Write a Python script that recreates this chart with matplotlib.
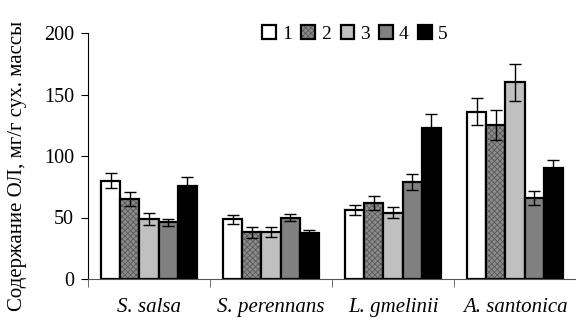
import matplotlib
matplotlib.use("Agg")
import matplotlib.pyplot as plt
import numpy as np

plt.rcParams['font.family'] = ['Liberation Serif', 'DejaVu Serif']
plt.rcParams['hatch.linewidth'] = 0.6

categories = ["S. salsa", "S. perennans", "L. gmelinii", "A. santonica"]
series_names = ["1", "2", "3", "4", "5"]
values = [
    [80, 48.5, 56, 136],
    [65, 38, 62, 125],
    [49, 38, 54, 160],
    [46, 50, 79, 66],
    [76, 37, 123, 90],
]
errors = [
    [6, 3.5, 4, 11],
    [6, 4.5, 5.5, 12],
    [5, 4, 4.5, 15],
    [3, 3, 6.5, 5.5],
    [7, 2.5, 11, 7],
]
colors = ["white", "#8c8c8c", "#c0c0c0", "#808080", "black"]
hatches = [None, "xxxxxx", None, None, None]

fig = plt.figure(figsize=(5.76, 3.23), dpi=100)
ax = fig.add_axes([88/576, 1-279/323, 1-88/576, (279-33)/323])

x = np.arange(len(categories))
w = 0.156
for i in range(5):
    pos = x + (i - 2) * w
    bars = ax.bar(pos, values[i], w, color=colors[i], edgecolor="black",
                  linewidth=1.6, hatch=hatches[i], label=series_names[i], zorder=2)
    if hatches[i]:
        for b in bars:
            b._hatch_color = (0.35, 0.35, 0.35, 1.0)
    ax.errorbar(pos, values[i], yerr=errors[i], fmt="none", ecolor="black",
                elinewidth=1.0, capsize=4, capthick=1.0, zorder=3)

ax.set_xlim(-0.5, 3.5)
ax.set_ylim(0, 200)
ax.set_yticks([0, 50, 100, 150, 200])
ax.set_xticks(x)
ax.set_xticklabels(categories, fontstyle="italic", fontsize=15)
ax.set_xticks([-0.5, 0.5, 1.5, 2.5], minor=True)
ax.tick_params(axis="x", which="major", length=0, pad=14)
ax.tick_params(axis="x", which="minor", length=6, direction="out", color="#555555")
ax.tick_params(axis="y", labelsize=14.5, length=5, direction="out", pad=5)
for s in ["top", "right"]:
    ax.spines[s].set_visible(False)
ax.spines["left"].set_linewidth(0.8)
ax.spines["bottom"].set_linewidth(0.8)
ax.spines["bottom"].set_color("#555555")

ax.set_ylabel("Содержание ОЛ, мг/г сух. массы", fontsize=15)
ax.yaxis.set_label_coords(-0.125, 0.46)

leg = ax.legend(loc="center", bbox_to_anchor=(0.547, 0.996), ncol=5, frameon=False,
                fontsize=14, handlelength=0.7, handleheight=0.7,
                handletextpad=0.3, columnspacing=0.5, borderaxespad=0)

fig.savefig("out.png", dpi=100)
